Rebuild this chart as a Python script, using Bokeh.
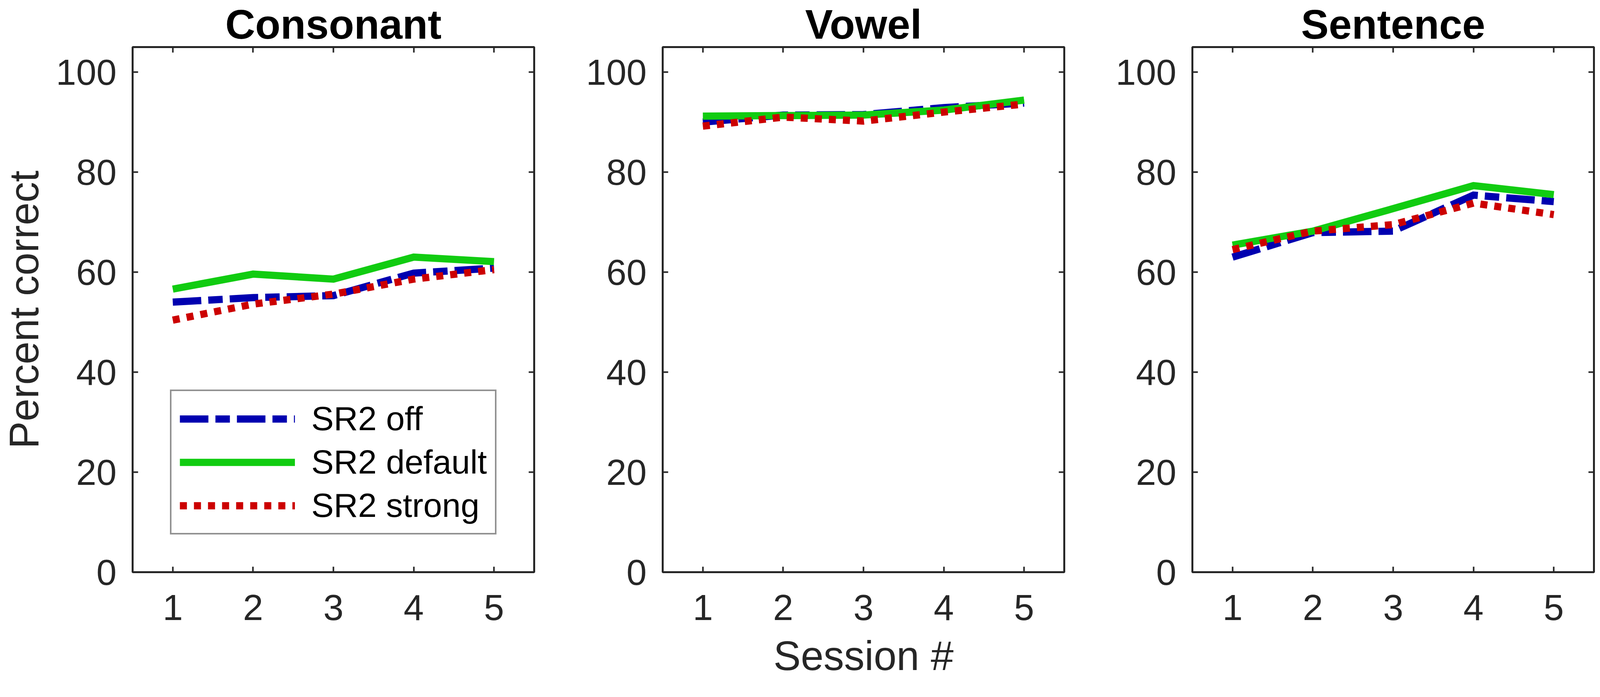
from bokeh.plotting import figure
from bokeh.models import (Range1d, LinearAxis, FixedTicker, Legend, LegendItem,
                          CustomJSTickFormatter)
from bokeh.layouts import row
from bokeh.embed import file_html
from bokeh.resources import INLINE

# ---------------- data ----------------
sessions = [1, 2, 3, 4, 5]
panel_titles = ["Consonant", "Vowel", "Sentence"]
series_labels = ["SR2 off", "SR2 default", "SR2 strong"]
y_ticks = [0, 20, 40, 60, 80, 100]

consonant_off = [54.0, 54.9, 55.3, 59.8, 60.8]
consonant_default = [56.6, 59.6, 58.6, 63.0, 62.1]
consonant_strong = [50.4, 53.6, 55.6, 58.6, 60.5]

vowel_off = [90.0, 91.4, 91.5, 92.9, 93.8]
vowel_default = [91.2, 91.3, 91.4, 92.4, 94.4]
vowel_strong = [89.2, 91.0, 90.2, 92.0, 93.6]

sentence_off = [63.0, 67.9, 68.2, 75.4, 74.1]
sentence_default = [65.4, 68.2, 72.7, 77.3, 75.5]
sentence_strong = [64.5, 68.2, 69.5, 73.8, 71.5]

# ---------------- style ----------------
colors = ["#0000B0", "#11CC11", "#CC0000"]
dashes = ["73 18 37 18", "solid", "18 18"]
AX = "#262626"
FONT = "Liberation Sans"
FW, FH = 1028, 1344
TOP = 108
BOTTOM = 268


def make_panel(title, series, left, right, ylabel=None, xlabel=None, legend=False):
    p = figure(frame_width=FW, frame_height=FH,
               x_range=Range1d(0.5, 5.5), y_range=Range1d(0, 105),
               output_backend="svg", toolbar_location=None,
               min_border_left=left, min_border_right=right,
               min_border_top=TOP, min_border_bottom=BOTTOM,
               background_fill_color="white", border_fill_color="white")
    p.title.text = title
    p.title.align = "center"
    p.title.text_font = FONT
    p.title.text_font_size = "106px"
    p.title.text_font_style = "bold"
    p.title.text_color = "black"
    p.title.standoff = 0

    p.xgrid.visible = False
    p.ygrid.visible = False
    p.outline_line_color = AX
    p.outline_line_width = 5
    p.outline_line_alpha = 1.0

    p.xaxis.ticker = FixedTicker(ticks=sessions, minor_ticks=[])
    p.yaxis.ticker = FixedTicker(ticks=y_ticks, minor_ticks=[])

    top_ax = LinearAxis(ticker=FixedTicker(ticks=sessions, minor_ticks=[]),
                        formatter=CustomJSTickFormatter(code="return ''"),
                        major_label_text_font_size="1px", major_label_standoff=0)
    right_ax = LinearAxis(ticker=FixedTicker(ticks=y_ticks, minor_ticks=[]),
                          formatter=CustomJSTickFormatter(code="return ''"),
                          major_label_text_font_size="1px", major_label_standoff=0)
    p.add_layout(top_ax, "above")
    p.add_layout(right_ax, "right")

    for ax in list(p.xaxis) + list(p.yaxis):
        ax.axis_line_color = None
        ax.major_tick_in = 14
        ax.major_tick_out = 0
        ax.minor_tick_in = 0
        ax.minor_tick_out = 0
        ax.major_tick_line_color = AX
        ax.major_tick_line_width = 4

    bx = p.below[0]
    ly = p.left[0]
    for ax in (bx, ly):
        ax.major_label_text_font = FONT
        ax.major_label_text_font_size = "93px"
        ax.major_label_text_color = AX
        ax.axis_label_text_font = FONT
        ax.axis_label_text_font_size = "105px"
        ax.axis_label_text_font_style = "normal"
        ax.axis_label_text_color = AX
    bx.major_label_standoff = 58
    ly.major_label_standoff = 41
    if ylabel:
        ly.axis_label = ylabel
        ly.axis_label_standoff = 20
    if xlabel:
        bx.axis_label = xlabel
        bx.axis_label_standoff = 30

    renderers = []
    for vals, c, d in zip(series, colors, dashes):
        r = p.line(sessions, vals, line_color=c, line_width=18.5, line_dash=d,
                   line_join="miter")
        renderers.append(r)

    if legend:
        items = [LegendItem(label=lab, renderers=[r])
                 for lab, r in zip(series_labels, renderers)]
        lg = Legend(items=items, location=(96, 96),
                    label_text_font=FONT, label_text_font_size="86px",
                    label_text_color="black",
                    glyph_width=295, glyph_height=80, label_height=80,
                    label_standoff=42, spacing=12, padding=21, margin=0,
                    border_line_color=AX, border_line_width=4,
                    background_fill_color="white", background_fill_alpha=1.0)
        p.add_layout(lg)
    return p


p1 = make_panel(panel_titles[0], [consonant_off, consonant_default, consonant_strong],
                left=328, right=20, ylabel="Percent correct", legend=True)
p2 = make_panel(panel_titles[1], [vowel_off, vowel_default, vowel_strong],
                left=309, right=20, xlabel="Session #")
p3 = make_panel(panel_titles[2], [sentence_off, sentence_default, sentence_strong],
                left=308, right=6)

layout = row(p1, p2, p3)
open("out.html", "w").write(file_html(layout, INLINE))
